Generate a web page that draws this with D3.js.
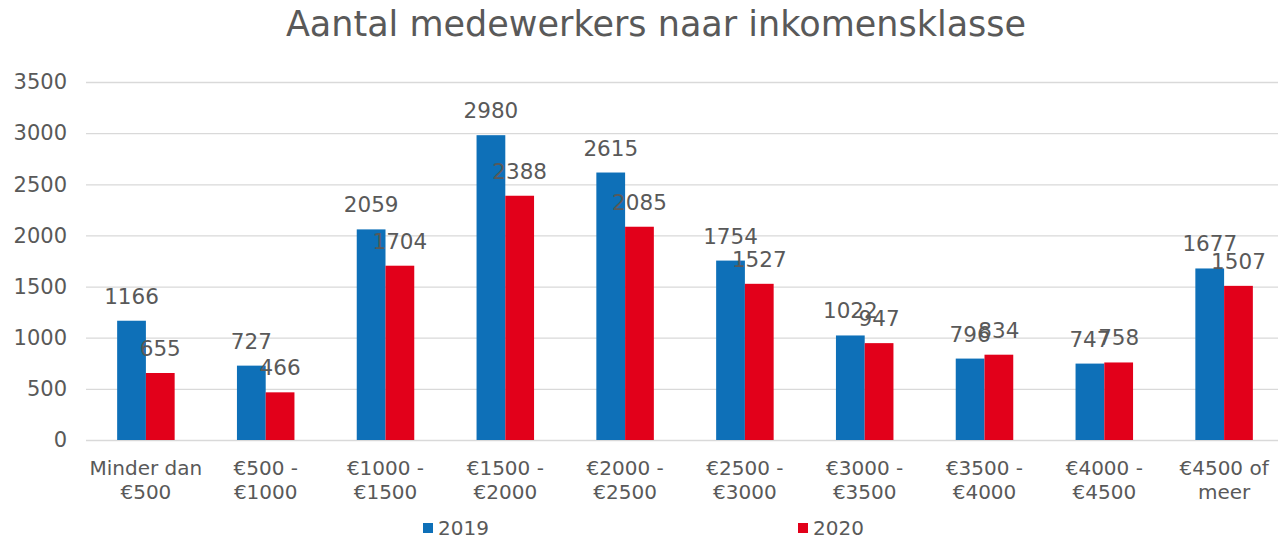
<!DOCTYPE html>
<html>
<head>
<meta charset="utf-8">
<script src="https://cdn.jsdelivr.net/npm/d3@7"></script>
<style>
  body { margin: 0; background: #fff; }
  svg text { font-family: "DejaVu Sans", Verdana, sans-serif; fill: #595959; }
  .gridlines line { stroke: #d9d9d9; stroke-width: 1.3; }
  .gridlines path { display: none; }
</style>
</head>
<body>
<svg id="chart" width="1278" height="539"></svg>
<script>
const categories = [
  ["Minder dan", "€500"], ["€500 -", "€1000"], ["€1000 -", "€1500"],
  ["€1500 -", "€2000"], ["€2000 -", "€2500"], ["€2500 -", "€3000"],
  ["€3000 -", "€3500"], ["€3500 -", "€4000"], ["€4000 -", "€4500"],
  ["€4500 of", "meer"]
];
const seriesNames = ["2019", "2020"];
const values2019 = [1166, 727, 2059, 2980, 2615, 1754, 1022, 796, 747, 1677];
const values2020 = [655, 466, 1704, 2388, 2085, 1527, 947, 834, 758, 1507];
const yTicks = [0, 500, 1000, 1500, 2000, 2500, 3000, 3500];
const colors = ["#0e70b8", "#e2001a"];

const svg = d3.select("#chart");
const margins = { top: 82, left: 86, right: -6, bottom: 99 };
const chartWidth = svg.attr("width") - margins.left - margins.right;
const chartHeight = svg.attr("height") - margins.top - margins.bottom;

const keys = categories.map((c) => c.join(" "));
const x0 = d3.scaleBand().domain(keys).range([0, chartWidth])
  .paddingInner(0.52).paddingOuter(0.26);
const x1 = d3.scaleBand().domain(seriesNames).range([0, x0.bandwidth()]);
const yScale = d3.scaleLinear().domain([0, 3500]).range([chartHeight, 0]);

const chartArea = svg.append("g")
  .attr("transform", `translate(${margins.left},${margins.top})`);

// title
svg.append("text")
  .text("Aantal medewerkers naar inkomensklasse")
  .attr("x", 656).attr("y", 36)
  .attr("text-anchor", "middle")
  .style("font-size", "35px");

// gridlines
chartArea.append("g")
  .attr("class", "gridlines")
  .call(d3.axisLeft(yScale).tickValues(yTicks).tickSize(-chartWidth).tickFormat(""));

// y tick labels
chartArea.append("g")
  .selectAll("text")
  .data(yTicks)
  .join("text")
  .text((d) => d)
  .attr("x", -19)
  .attr("y", (d) => yScale(d))
  .attr("dy", "0.35em")
  .attr("text-anchor", "end")
  .style("font-size", "21px");

// bars + labels
const rows = categories.map((c, i) => ({
  key: keys[i],
  vals: [
    { s: "2019", v: values2019[i], c: colors[0] },
    { s: "2020", v: values2020[i], c: colors[1] }
  ]
}));

const groups = chartArea.selectAll(".grp")
  .data(rows)
  .join("g")
  .attr("class", "grp")
  .attr("transform", (d) => `translate(${x0(d.key)},0)`);

groups.selectAll("rect")
  .data((d) => d.vals)
  .join("rect")
  .attr("x", (d) => x1(d.s))
  .attr("y", (d) => yScale(d.v))
  .attr("width", x1.bandwidth())
  .attr("height", (d) => chartHeight - yScale(d.v))
  .attr("fill", (d) => d.c);

groups.selectAll(".lbl")
  .data((d) => d.vals)
  .join("text")
  .attr("class", "lbl")
  .text((d) => d.v)
  .attr("x", (d) => x1(d.s) + x1.bandwidth() / 2)
  .attr("y", (d) => yScale(d.v) - 17)
  .attr("text-anchor", "middle")
  .style("font-size", "21.5px");

// category labels
const catLabels = chartArea.append("g")
  .selectAll("text")
  .data(categories)
  .join("text")
  .attr("x", (d, i) => x0(keys[i]) + x0.bandwidth() / 2)
  .attr("y", chartHeight + 35)
  .attr("text-anchor", "middle")
  .style("font-size", "20px");
catLabels.append("tspan").text((d) => d[0]).attr("x", (d, i) => x0(keys[i]) + x0.bandwidth() / 2);
catLabels.append("tspan").text((d) => d[1]).attr("x", (d, i) => x0(keys[i]) + x0.bandwidth() / 2).attr("dy", 24);

// legend
const legendX = [423, 798];
const legend = svg.append("g");
seriesNames.forEach((s, i) => {
  legend.append("rect")
    .attr("x", legendX[i]).attr("y", 523)
    .attr("width", 10).attr("height", 10)
    .attr("fill", colors[i]);
  legend.append("text")
    .text(s)
    .attr("x", legendX[i] + 15).attr("y", 528)
    .attr("dy", "0.35em")
    .style("font-size", "20px");
});
</script>
</body>
</html>
